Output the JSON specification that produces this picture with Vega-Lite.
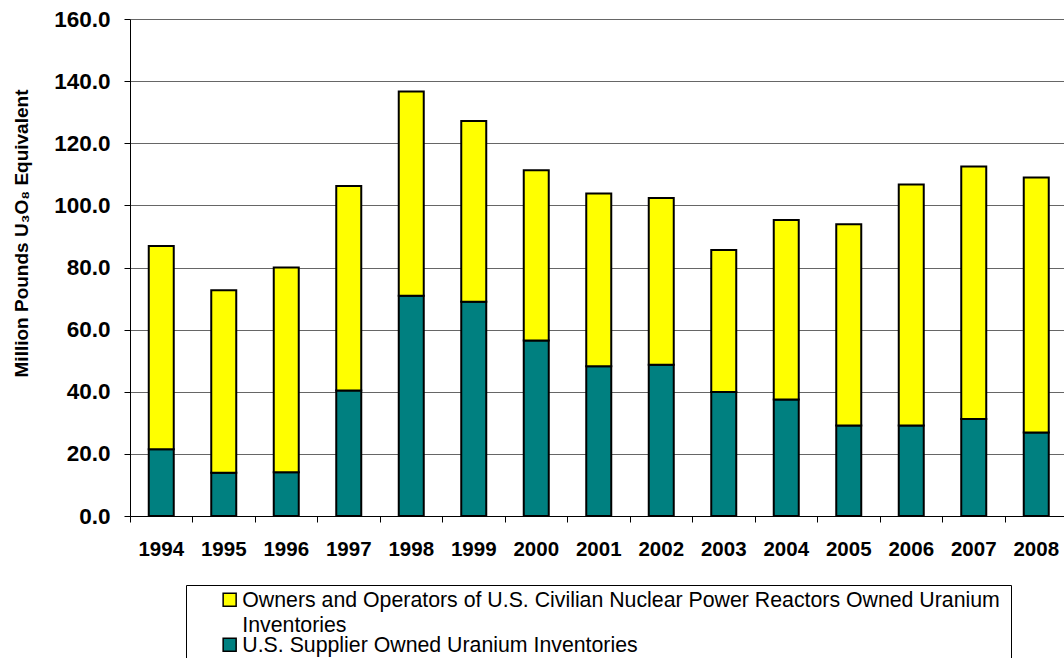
{
  "$schema": "https://vega.github.io/schema/vega-lite/v6.json",
  "width": 934,
  "height": 497,
  "autosize": {"type": "none"},
  "padding": {"left": 130, "top": 19, "right": 0, "bottom": 142},
  "background": "white",
  "data": {
    "values": [
      {"year": "1994", "series": "U.S. Supplier Owned Uranium Inventories", "value": 21.5},
      {"year": "1995", "series": "U.S. Supplier Owned Uranium Inventories", "value": 13.9},
      {"year": "1996", "series": "U.S. Supplier Owned Uranium Inventories", "value": 14.1},
      {"year": "1997", "series": "U.S. Supplier Owned Uranium Inventories", "value": 40.4},
      {"year": "1998", "series": "U.S. Supplier Owned Uranium Inventories", "value": 70.9},
      {"year": "1999", "series": "U.S. Supplier Owned Uranium Inventories", "value": 69.0},
      {"year": "2000", "series": "U.S. Supplier Owned Uranium Inventories", "value": 56.5},
      {"year": "2001", "series": "U.S. Supplier Owned Uranium Inventories", "value": 48.2},
      {"year": "2002", "series": "U.S. Supplier Owned Uranium Inventories", "value": 48.7},
      {"year": "2003", "series": "U.S. Supplier Owned Uranium Inventories", "value": 39.9},
      {"year": "2004", "series": "U.S. Supplier Owned Uranium Inventories", "value": 37.5},
      {"year": "2005", "series": "U.S. Supplier Owned Uranium Inventories", "value": 29.1},
      {"year": "2006", "series": "U.S. Supplier Owned Uranium Inventories", "value": 29.1},
      {"year": "2007", "series": "U.S. Supplier Owned Uranium Inventories", "value": 31.2},
      {"year": "2008", "series": "U.S. Supplier Owned Uranium Inventories", "value": 26.9},
      {"year": "1994", "series": "Owners and Operators of U.S. Civilian Nuclear Power Reactors Owned Uranium Inventories", "value": 65.4},
      {"year": "1995", "series": "Owners and Operators of U.S. Civilian Nuclear Power Reactors Owned Uranium Inventories", "value": 58.8},
      {"year": "1996", "series": "Owners and Operators of U.S. Civilian Nuclear Power Reactors Owned Uranium Inventories", "value": 65.9},
      {"year": "1997", "series": "Owners and Operators of U.S. Civilian Nuclear Power Reactors Owned Uranium Inventories", "value": 65.8},
      {"year": "1998", "series": "Owners and Operators of U.S. Civilian Nuclear Power Reactors Owned Uranium Inventories", "value": 65.8},
      {"year": "1999", "series": "Owners and Operators of U.S. Civilian Nuclear Power Reactors Owned Uranium Inventories", "value": 58.2},
      {"year": "2000", "series": "Owners and Operators of U.S. Civilian Nuclear Power Reactors Owned Uranium Inventories", "value": 54.8},
      {"year": "2001", "series": "Owners and Operators of U.S. Civilian Nuclear Power Reactors Owned Uranium Inventories", "value": 55.6},
      {"year": "2002", "series": "Owners and Operators of U.S. Civilian Nuclear Power Reactors Owned Uranium Inventories", "value": 53.7},
      {"year": "2003", "series": "Owners and Operators of U.S. Civilian Nuclear Power Reactors Owned Uranium Inventories", "value": 45.7},
      {"year": "2004", "series": "Owners and Operators of U.S. Civilian Nuclear Power Reactors Owned Uranium Inventories", "value": 57.8},
      {"year": "2005", "series": "Owners and Operators of U.S. Civilian Nuclear Power Reactors Owned Uranium Inventories", "value": 64.8},
      {"year": "2006", "series": "Owners and Operators of U.S. Civilian Nuclear Power Reactors Owned Uranium Inventories", "value": 77.6},
      {"year": "2007", "series": "Owners and Operators of U.S. Civilian Nuclear Power Reactors Owned Uranium Inventories", "value": 81.3},
      {"year": "2008", "series": "Owners and Operators of U.S. Civilian Nuclear Power Reactors Owned Uranium Inventories", "value": 82.1}
    ]
  },
  "mark": {"type": "bar", "stroke": "black", "strokeWidth": 2, "width": {"band": 0.4}},
  "encoding": {
    "x": {
      "field": "year",
      "type": "ordinal",
      "scale": {"range": [0, 937.5], "paddingInner": 0, "paddingOuter": 0},
      "axis": {
        "title": null,
        "labelAngle": 0,
        "bandPosition": 0,
        "labelFont": "Liberation Sans",
        "labelFontSize": 20.5,
        "labelFontWeight": "bold",
        "labelColor": "black",
        "labelBaseline": "alphabetic",
        "labelPadding": 33,
        "tickSize": 6,
        "tickColor": "black",
        "domainColor": "black",
        "labelOverlap": false,
        "grid": false
      }
    },
    "y": {
      "field": "value",
      "type": "quantitative",
      "stack": "zero",
      "scale": {"domain": [0, 160], "nice": false},
      "axis": {
        "values": [0, 20, 40, 60, 80, 100, 120, 140, 160],
        "format": ".1f",
        "title": "Million Pounds U₃O₈ Equivalent",
        "titleFont": "Liberation Sans",
        "titleFontSize": 19,
        "titleFontWeight": "bold",
        "titleColor": "black",
        "titleX": -109,
        "titleY": 214,
        "titleAngle": -90,
        "titleAlign": "center",
        "titleBaseline": "middle",
        "labelFont": "Liberation Sans",
        "labelFontSize": 22.5,
        "labelFontWeight": "bold",
        "labelColor": "black",
        "labelPadding": 14,
        "tickSize": 6,
        "tickColor": "black",
        "domainColor": "black",
        "gridColor": "#666666",
        "gridWidth": 1,
        "labelOverlap": false,
        "labelFlush": false
      }
    },
    "color": {
      "field": "series",
      "type": "nominal",
      "scale": {
        "domain": ["Owners and Operators of U.S. Civilian Nuclear Power Reactors Owned Uranium Inventories", "U.S. Supplier Owned Uranium Inventories"],
        "range": ["#ffff00", "#008080"]
      },
      "legend": {
        "orient": "none",
        "legendX": 56,
        "legendY": 566,
        "title": null,
        "strokeColor": "black",
        "fillColor": "white",
        "padding": 11,
        "symbolType": "M-1,-2.08H1V-0.08H-1Z",
        "symbolSize": 169,
        "symbolStrokeColor": "black",
        "symbolStrokeWidth": 1.5,
        "symbolOffset": 22,
        "labelOffset": 2,
        "labelFont": "Liberation Sans",
        "labelFontSize": 21.3,
        "labelColor": "black",
        "labelLimit": 1000,
        "labelBaseline": "alphabetic",
        "rowPadding": -2,
        "labelExpr": "indexof(datum.label, 'Owners') == 0 ? ['Owners and Operators of U.S. Civilian Nuclear Power Reactors Owned Uranium\u2003\u2003\u2003\u2003', 'Inventories'] : datum.label"
      }
    },
    "order": {"field": "series", "sort": "descending"}
  },
  "config": {
    "view": {"stroke": null},
    "style": {"guide-label": {"lineHeight": 25}}
  }
}
